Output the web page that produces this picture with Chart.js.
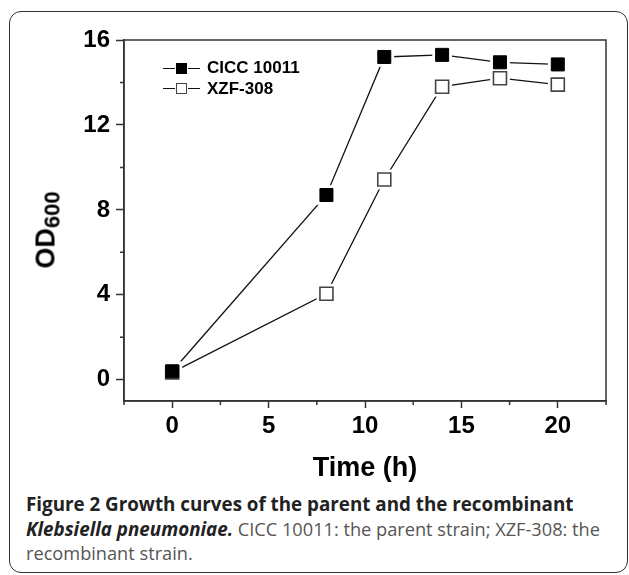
<!DOCTYPE html>
<html>
<head>
<meta charset="utf-8">
<script src="https://cdn.jsdelivr.net/npm/chart.js@4/dist/chart.umd.min.js"></script>
<style>
  html, body { margin: 0; padding: 0; background: #fff; }
  #wrap { position: relative; width: 629px; height: 575px; overflow: hidden; }
  #frame {
    position: absolute; left: 9px; top: 11px; width: 617px; height: 560px;
    border: 1.5px solid #333; border-radius: 12px;
  }
  #chartBox { position: absolute; left: 0; top: 0; width: 629px; height: 485px; }
  .legend { position: absolute; left: 163px; top: 58px; font: bold 17px "Liberation Sans", Arial, sans-serif; color: #000; }
  .legend .row { display: flex; align-items: center; height: 20.5px; }
  .legend .seg { display: inline-block; width: 12px; height: 0; border-top: 1.4px solid #111; }
  .legend .sym { display: inline-block; width: 11px; height: 11px; margin: 0 1px; box-sizing: border-box; }
  .legend .sym.filled { background: #000; border: 1px solid #000; }
  .legend .sym.hollow { background: #fff; border: 1.4px solid #444; }
  .legend .lab { margin-left: 7px; }
  #ytitle {
    position: absolute; left: 48px; top: 230px; transform: translate(-50%, -50%) rotate(-90deg);
    font: bold 27px "Liberation Sans", Arial, sans-serif; color: #000; white-space: nowrap;
  }
  #ytitle sub { font-size: 22px; vertical-align: -5px; }
  #xtitle {
    position: absolute; left: 365px; top: 467px; transform: translate(-50%, -50%);
    font: bold 27px "Liberation Sans", Arial, sans-serif; color: #000; white-space: nowrap;
  }
  #caption {
    position: absolute; left: 26px; top: 492px; width: 610px; white-space: nowrap;
    font: 18.2px/24.5px "Open Sans", sans-serif; color: #555;
  }
  #caption b { color: #222; font-size: 18.8px; }
</style>
</head>
<body>
<div id="wrap">
  <div id="frame"></div>
  <div id="chartBox"><canvas id="growthChart"></canvas></div>
  <div class="legend">
    <div class="row"><span class="seg"></span><span class="sym filled"></span><span class="seg"></span><span class="lab">CICC 10011</span></div>
    <div class="row"><span class="seg"></span><span class="sym hollow"></span><span class="seg"></span><span class="lab">XZF-308</span></div>
  </div>
  <div id="ytitle">OD<sub>600</sub></div>
  <div id="xtitle">Time (h)</div>
  <div id="caption"><b>Figure 2 Growth curves of the parent and the recombinant</b><br><b><i>Klebsiella pneumoniae.</i></b> CICC 10011: the parent strain; XZF-308: the<br>recombinant strain.</div>
</div>

<script>
// ---- data ----
const timeH   = [0, 8, 11, 14, 17, 20];
const ciccOD  = [0.4, 8.7, 15.2, 15.3, 14.95, 14.85];
const xzfOD   = [0.35, 4.05, 9.43, 13.8, 14.2, 13.9];

const xTicks      = [0, 5, 10, 15, 20];
const xMinorTicks = [-2.5, 2.5, 7.5, 12.5, 17.5, 22.5];
const yTicks      = [0, 4, 8, 12, 16];
const yMinorTicks = [2, 6, 10, 14];

const AXIS = '#333';
const TICK_FONT = { family: '"Liberation Sans", Arial, sans-serif', size: 24, weight: 'bold' };

const pts = vals => timeH.map((t, i) => ({ x: t, y: vals[i] }));

// frame around plot + short minor ticks
const framePlugin = {
  id: 'frameAndMinor',
  afterDraw(chart) {
    const { ctx, chartArea: a, scales } = chart;
    ctx.save();
    ctx.strokeStyle = AXIS;
    ctx.lineWidth = 1.5;
    ctx.strokeRect(a.left, a.top, a.right - a.left, a.bottom - a.top);
    ctx.beginPath();
    xMinorTicks.forEach(v => {
      const px = scales.x.getPixelForValue(v);
      ctx.moveTo(px, a.bottom); ctx.lineTo(px, a.bottom + 4);
    });
    yMinorTicks.forEach(v => {
      const py = scales.y.getPixelForValue(v);
      ctx.moveTo(a.left, py); ctx.lineTo(a.left - 4, py);
    });
    ctx.stroke();
    ctx.restore();
  }
};

function lineSet(vals) {
  return { data: pts(vals), showLine: true, pointRadius: 0, borderColor: '#111', borderWidth: 1.3, order: 10 };
}
function haloSet(vals) {
  return { data: pts(vals), showLine: false, pointStyle: 'rect', pointRadius: 14, pointHoverRadius: 14,
           pointBackgroundColor: '#fff', pointBorderWidth: 0, order: 5 };
}

new Chart(document.getElementById('growthChart'), {
  type: 'scatter',
  data: {
    datasets: [
      lineSet(ciccOD),
      lineSet(xzfOD),
      haloSet(ciccOD),
      haloSet(xzfOD),
      { label: 'XZF-308', data: pts(xzfOD), showLine: false, pointStyle: 'rect', pointRadius: 9.2,
        pointBackgroundColor: '#fff', pointBorderColor: '#444', pointBorderWidth: 1.6, order: 2 },
      { label: 'CICC 10011', data: pts(ciccOD), showLine: false, pointStyle: 'rect', pointRadius: 9.2,
        pointBackgroundColor: '#000', pointBorderColor: '#000', pointBorderWidth: 1, order: 1 }
    ]
  },
  options: {
    responsive: true, maintainAspectRatio: false, animation: false,
    layout: { padding: { top: 40, right: 23, left: 0, bottom: 0 } },
    plugins: { legend: { display: false }, tooltip: { enabled: false } },
    scales: {
      x: {
        type: 'linear', min: -2.5, max: 22.5,
        afterBuildTicks: s => { s.ticks = xTicks.map(v => ({ value: v })); },
        afterFit: s => { s.height = 84; },
        ticks: { font: TICK_FONT, color: '#000', padding: 4 },
        grid: { drawOnChartArea: false, tickLength: 7, tickWidth: 1.5, tickColor: AXIS },
        border: { color: AXIS, width: 1.5 }
      },
      y: {
        type: 'linear', min: -1, max: 16,
        afterBuildTicks: s => { s.ticks = yTicks.map(v => ({ value: v })); },
        afterFit: s => { s.width = 124; },
        ticks: { font: TICK_FONT, color: '#000', padding: 6 },
        grid: { drawOnChartArea: false, tickLength: 8, tickWidth: 1.5, tickColor: AXIS },
        border: { color: AXIS, width: 1.5 }
      }
    }
  },
  plugins: [framePlugin]
});
</script>
</body>
</html>
